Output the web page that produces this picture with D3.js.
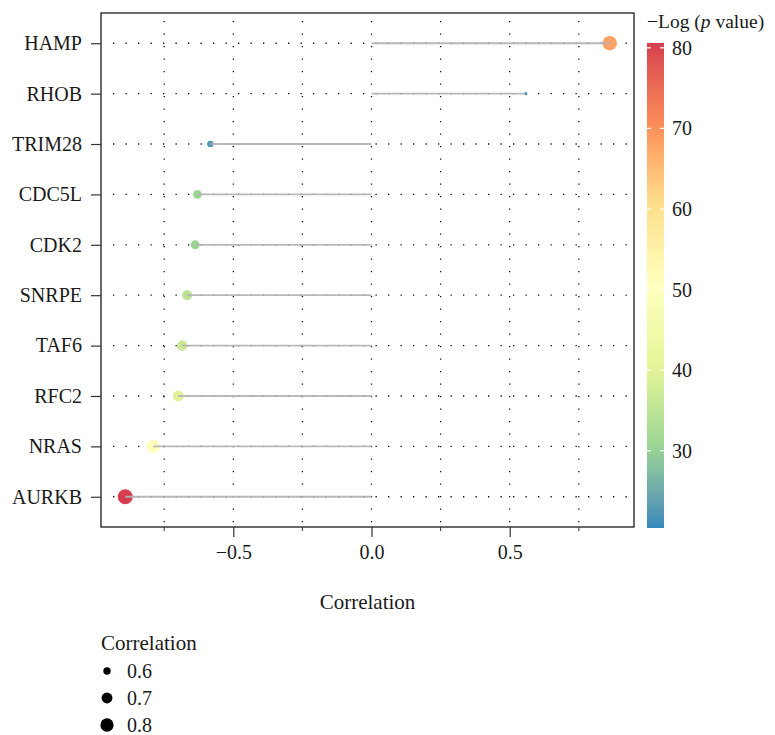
<!DOCTYPE html>
<html>
<head>
  <meta charset="utf-8">
  <script src="https://d3js.org/d3.v7.min.js"></script>
  <style>
    body { margin: 0; background: #fff; }
    svg text { font-family: "Liberation Serif", "DejaVu Serif", serif !important; fill: #1a1a1a; }
  </style>
</head>
<body>
<div id="chart"></div>
<script>
  // data
  var genes = ["HAMP", "RHOB", "TRIM28", "CDC5L", "CDK2", "SNRPE", "TAF6", "RFC2", "NRAS", "AURKB"];
  var correlation = [0.862, 0.558, -0.583, -0.630, -0.638, -0.667, -0.685, -0.699, -0.790, -0.891];
  var logP = [68, 20.4, 22.5, 30.5, 30.5, 34.5, 36.5, 39.5, 50, 80.6];
  var xTicks = [-0.5, 0, 0.5];
  var xMinor = [-0.75, -0.25, 0.25, 0.75];
  var colorTicks = [30, 40, 50, 60, 70, 80];
  var sizeBreaks = [0.6, 0.7, 0.8];
  var spectral = ["#3288bd", "#99d594", "#e6f598", "#ffffbf", "#fee08b", "#fc8d59", "#d53e4f"];

  var width = 775, height = 735;
  var panel = { left: 101, right: 634, top: 13, bottom: 527 };
  var serif = "'Liberation Serif', 'DejaVu Serif', serif";

  var svg = d3.select("#chart").append("svg")
    .attr("width", width)
    .attr("height", height);

  svg.append("rect").attr("width", width).attr("height", height).attr("fill", "#fff");

  // scales
  var ext = d3.extent(correlation.concat([0]));
  var pad = (ext[1] - ext[0]) * 0.05;
  var x = d3.scaleLinear()
    .domain([ext[0] - pad, ext[1] + pad])
    .range([panel.left, panel.right]);

  var y = d3.scalePoint()
    .domain(genes)
    .range([panel.top, panel.bottom])
    .padding(0.6);

  var cExt = d3.extent(logP);
  var color = d3.scaleLinear()
    .domain(spectral.map(function(d, i) { return cExt[0] + i * (cExt[1] - cExt[0]) / (spectral.length - 1); }))
    .range(spectral)
    .interpolate(d3.interpolateLab);

  var absCor = correlation.map(Math.abs);
  var sExt = d3.extent(absCor);
  var sizeT = d3.scaleLinear().domain(sExt).range([0, 1]);
  var radius = function(v) { return 1.6 + 5.9 * Math.sqrt(Math.max(0, sizeT(v))); };

  // grid
  var grid = svg.append("g")
    .attr("stroke", "#111")
    .attr("stroke-width", 1.3)
    .attr("stroke-dasharray", "1.3,11.2");

  grid.selectAll(".vg")
    .data(xTicks.concat(xMinor))
    .enter().append("line")
    .attr("x1", function(d) { return x(d); })
    .attr("x2", function(d) { return x(d); })
    .attr("y1", panel.top + 8)
    .attr("y2", panel.bottom);

  grid.selectAll(".hg")
    .data(genes)
    .enter().append("line")
    .attr("x1", panel.left + 12)
    .attr("x2", panel.right)
    .attr("y1", function(d) { return y(d); })
    .attr("y2", function(d) { return y(d); });

  // points then segments on top
  var rows = genes.map(function(g, i) {
    return { gene: g, r: correlation[i], p: logP[i] };
  });

  svg.append("g").selectAll("circle")
    .data(rows)
    .enter().append("circle")
    .attr("cx", function(d) { return x(d.r); })
    .attr("cy", function(d) { return y(d.gene); })
    .attr("r", function(d) { return radius(Math.abs(d.r)); })
    .attr("fill", function(d) { return color(d.p); });

  svg.append("g").selectAll("line")
    .data(rows)
    .enter().append("line")
    .attr("x1", x(0))
    .attr("x2", function(d) { return x(d.r); })
    .attr("y1", function(d) { return y(d.gene); })
    .attr("y2", function(d) { return y(d.gene); })
    .attr("stroke", "#b3b3b3")
    .attr("stroke-opacity", 0.92)
    .attr("stroke-width", 1.8);

  // panel border
  svg.append("rect")
    .attr("x", panel.left)
    .attr("y", panel.top)
    .attr("width", panel.right - panel.left)
    .attr("height", panel.bottom - panel.top)
    .attr("fill", "none")
    .attr("stroke", "#1a1a1a")
    .attr("stroke-width", 1.3);

  // y axis
  var yAxis = svg.append("g")
    .attr("transform", "translate(" + panel.left + ",0)")
    .call(d3.axisLeft(y).tickSize(10).tickPadding(9));
  yAxis.attr("font-family", serif).attr("font-size", 20);
  yAxis.select(".domain").remove();
  yAxis.selectAll(".tick line").attr("stroke", "#333").attr("stroke-width", 1.2);
  yAxis.selectAll(".tick text").attr("fill", "#1a1a1a");

  // x axis
  var xAxis = svg.append("g")
    .attr("transform", "translate(0," + panel.bottom + ")")
    .call(d3.axisBottom(x).tickValues(xTicks).tickSize(10).tickPadding(8)
      .tickFormat(function(d) { return d3.format(".1f")(d).replace("-", "\u2212"); }));
  xAxis.attr("font-family", serif).attr("font-size", 20);
  xAxis.select(".domain").remove();
  xAxis.selectAll(".tick line").attr("stroke", "#333").attr("stroke-width", 1.2);
  xAxis.selectAll(".tick text").attr("fill", "#1a1a1a");

  svg.append("g").selectAll("line")
    .data(xMinor)
    .enter().append("line")
    .attr("x1", function(d) { return x(d); })
    .attr("x2", function(d) { return x(d); })
    .attr("y1", panel.bottom)
    .attr("y2", panel.bottom + 4)
    .attr("stroke", "#333")
    .attr("stroke-width", 1);

  svg.append("text")
    .attr("x", (panel.left + panel.right) / 2)
    .attr("y", 609)
    .attr("text-anchor", "middle")
    .attr("font-size", "21px")
    .text("Correlation");

  // colour bar
  var cb = { x: 647, w: 17, top: 43, bottom: 528 };
  var cy = d3.scaleLinear().domain(cExt).range([cb.bottom, cb.top]);

  var grad = svg.append("defs").append("linearGradient")
    .attr("id", "cbar")
    .attr("x1", 0).attr("y1", 1).attr("x2", 0).attr("y2", 0);
  grad.selectAll("stop")
    .data(d3.range(0, 1.0001, 0.02))
    .enter().append("stop")
    .attr("offset", function(d) { return d; })
    .attr("stop-color", function(d) { return color(cExt[0] + d * (cExt[1] - cExt[0])); });

  svg.append("rect")
    .attr("x", cb.x)
    .attr("y", cb.top)
    .attr("width", cb.w)
    .attr("height", cb.bottom - cb.top)
    .attr("fill", "url(#cbar)");

  var cTick = svg.append("g").selectAll("g")
    .data(colorTicks)
    .enter().append("g");
  cTick.append("line")
    .attr("x1", cb.x).attr("x2", cb.x + 4)
    .attr("y1", function(d) { return cy(d); })
    .attr("y2", function(d) { return cy(d); })
    .attr("stroke", "#fff").attr("stroke-width", 1.2);
  cTick.append("line")
    .attr("x1", cb.x + cb.w - 4).attr("x2", cb.x + cb.w)
    .attr("y1", function(d) { return cy(d); })
    .attr("y2", function(d) { return cy(d); })
    .attr("stroke", "#fff").attr("stroke-width", 1.2);
  cTick.append("text")
    .attr("x", cb.x + cb.w + 8)
    .attr("y", function(d) { return cy(d); })
    .attr("dy", "0.35em")
    .attr("font-size", "20px")
    .text(function(d) { return d; });

  var cTitle = svg.append("text")
    .attr("x", cb.x)
    .attr("y", 28)
    .attr("font-size", "19.5px");
  cTitle.append("tspan").text("\u2212Log (");
  cTitle.append("tspan").attr("font-style", "italic").text("p");
  cTitle.append("tspan").text(" value)");

  // size legend
  svg.append("text")
    .attr("x", 101)
    .attr("y", 650)
    .attr("font-size", "21px")
    .text("Correlation");

  var sKey = svg.append("g").selectAll("g")
    .data(sizeBreaks)
    .enter().append("g")
    .attr("transform", function(d, i) { return "translate(0," + (671 + i * 27) + ")"; });
  sKey.append("circle")
    .attr("cx", 107)
    .attr("cy", 0)
    .attr("r", function(d) { return radius(d); })
    .attr("fill", "#000");
  sKey.append("text")
    .attr("x", 127)
    .attr("y", 0)
    .attr("dy", "0.35em")
    .attr("font-size", "20px")
    .text(function(d) { return d.toFixed(1); });
</script>
</body>
</html>
